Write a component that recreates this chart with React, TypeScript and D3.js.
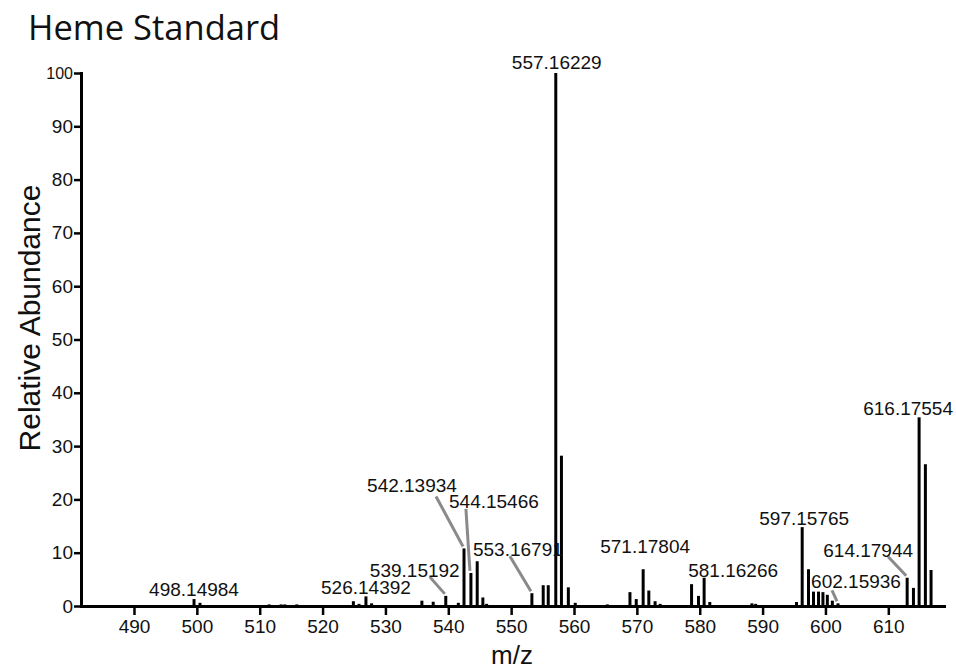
import React, { useEffect, useRef } from 'react';
import * as d3 from 'd3';

// peak positions (m/z, read against the axis) and relative abundance (%)
const peakMz = [
  499.55, 500.5, 511.5, 513.4, 514.0, 515.9, 524.9, 525.8, 526.9, 527.8,
  535.8, 537.6, 539.6, 541.6, 542.5, 543.6, 544.6, 545.5, 546.1,
  553.3, 555.1, 555.9, 557.1, 558.0, 559.1, 560.2, 565.3,
  568.9, 569.9, 571.0, 571.9, 572.9, 573.7,
  578.7, 579.8, 580.7, 581.6, 588.3, 588.9,
  595.4, 596.3, 597.3, 598.1, 598.9, 599.6, 600.3, 601.1, 602.0,
  613.0, 614.0, 614.9, 615.9, 616.8,
];
const peakAbundance = [
  1.3, 0.6, 0.3, 0.3, 0.3, 0.3, 0.9, 0.4, 1.8, 0.5,
  1.0, 0.8, 1.9, 0.6, 10.8, 6.2, 8.4, 1.6, 0.4,
  2.4, 3.9, 3.9, 100, 28.2, 3.5, 0.6, 0.3,
  2.6, 1.3, 6.9, 2.9, 0.9, 0.4,
  4.1, 1.9, 5.3, 0.75, 0.5, 0.4,
  0.75, 14.8, 6.9, 2.7, 2.7, 2.6, 2.1, 1.0, 0.5,
  5.3, 3.4, 35.4, 26.6, 6.75,
];

// annotated peaks
const labelPeakMz = [499.55, 526.9, 539.6, 542.5, 543.6, 553.3, 557.1, 571.0, 580.7, 596.3, 602.0, 613.0, 614.9];
const labelTexts = [
  '498.14984', '526.14392', '539.15192', '542.13934', '544.15466', '553.16791',
  '557.16229', '571.17804', '581.16266', '597.15765', '602.15936', '614.17944', '616.17554',
];

const xTickValues = [490, 500, 510, 520, 530, 540, 550, 560, 570, 580, 590, 600, 610];
const yTickValues = [0, 10, 20, 30, 40, 50, 60, 70, 80, 90, 100];

// text offset from the peak top, and where the leader line starts (if any)
const labelLayout = [
  { dx: 0, dy: -3 },
  { dx: 0, dy: -2 },
  { dx: -31, dy: -19, lx: -16, ly: -19 },
  { dx: -52, dy: -56, lx: -28, ly: -52 },
  { dx: 23, dy: -65, lx: -5, ly: -64 },
  { dx: -14, dy: -37, lx: -22, ly: -37 },
  { dx: 1, dy: -4 },
  { dx: 2, dy: -16 },
  { dx: 29, dy: -1 },
  { dx: 2, dy: -2 },
  { dx: 18, dy: -15, lx: -6, ly: -13 },
  { dx: -39, dy: -21, lx: -19, ly: -21 },
  { dx: -11, dy: -2 },
];

const width = 956;
const height = 672;
const sans = '"Liberation Sans", Arial, sans-serif';

export default function App() {
  const svgRef = useRef<SVGSVGElement>(null);

  useEffect(() => {
    const svg = d3.select(svgRef.current);
    svg.selectAll('*').remove();

    const xScale = d3.scaleLinear().domain([481.57, 618.86]).range([81, 944]);
    const yScale = d3.scaleLinear().domain([0, 100]).range([606, 73]);

    const topOf = (mz: number) => yScale(peakAbundance[peakMz.indexOf(mz)]);

    // leader lines
    svg
      .append('g')
      .selectAll('line')
      .data(labelPeakMz.map((mz, i) => ({ mz, l: labelLayout[i] })).filter((d) => d.l.lx !== undefined))
      .enter()
      .append('line')
      .attr('x1', (d) => xScale(d.mz) + (d.l.lx as number))
      .attr('y1', (d) => topOf(d.mz) + (d.l.ly as number))
      .attr('x2', (d) => xScale(d.mz) - 1)
      .attr('y2', (d) => topOf(d.mz) - 2)
      .attr('stroke', '#8a8a8a')
      .attr('stroke-width', 3);

    // peaks
    svg
      .append('g')
      .selectAll('line')
      .data(peakMz)
      .enter()
      .append('line')
      .attr('x1', (d) => xScale(d))
      .attr('x2', (d) => xScale(d))
      .attr('y1', yScale(0))
      .attr('y2', (d, i) => yScale(peakAbundance[i]))
      .attr('stroke', '#000')
      .attr('stroke-width', 3);

    // peak labels
    svg
      .append('g')
      .selectAll('text')
      .data(labelPeakMz)
      .enter()
      .append('text')
      .attr('x', (d, i) => xScale(d) + labelLayout[i].dx)
      .attr('y', (d, i) => topOf(d) + labelLayout[i].dy)
      .attr('text-anchor', 'middle')
      .attr('font-family', sans)
      .attr('font-size', 19)
      .attr('fill', '#111')
      .text((d, i) => labelTexts[i]);

    const xAxis = d3
      .axisBottom(xScale)
      .tickValues(xTickValues)
      .tickSizeInner(9)
      .tickSizeOuter(0)
      .tickPadding(4.5);
    const gx = svg.append('g').attr('transform', `translate(0,${yScale(0)})`).call(xAxis);

    const yAxis = d3
      .axisLeft(yScale)
      .tickValues(yTickValues)
      .tickSizeInner(7)
      .tickSizeOuter(0)
      .tickPadding(1);
    const gy = svg.append('g').attr('transform', `translate(${xScale.range()[0]},0)`).call(yAxis);

    [gx, gy].forEach((g) => {
      g.select('.domain').attr('stroke', '#000').attr('stroke-width', 3).attr('stroke-linecap', 'square');
      g.selectAll('.tick line').attr('stroke', '#000').attr('stroke-width', 2.5);
      g.selectAll('.tick text').attr('font-family', sans).attr('font-size', 19).attr('fill', '#111');
    });
    gy.selectAll('.tick text').filter((d) => d === 100).attr('font-size', 16);

    svg
      .append('text')
      .attr('x', 28)
      .attr('y', 40)
      .attr('font-family', '"Open Sans", sans-serif')
      .attr('font-size', 34.5)
      .attr('fill', '#111')
      .text('Heme Standard');

    svg
      .append('text')
      .attr('transform', 'translate(40,318) rotate(-90)')
      .attr('text-anchor', 'middle')
      .attr('font-family', sans)
      .attr('font-size', 30)
      .attr('fill', '#111')
      .text('Relative Abundance');

    svg
      .append('text')
      .attr('x', 512)
      .attr('y', 664)
      .attr('text-anchor', 'middle')
      .attr('font-family', sans)
      .attr('font-size', 26)
      .attr('fill', '#111')
      .text('m/z');
  }, []);

  return (
    <svg
      ref={svgRef}
      width={width}
      height={height}
      style={{ position: 'absolute', left: 0, top: 0, background: '#fff' }}
    />
  );
}
